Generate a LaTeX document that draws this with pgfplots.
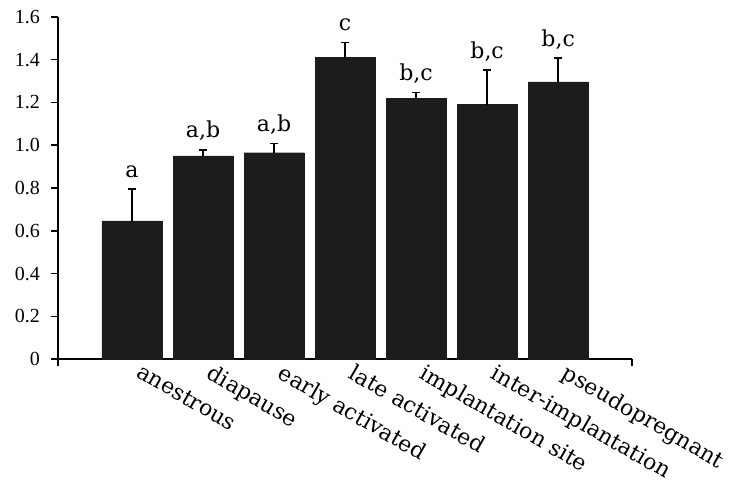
\documentclass[border=0pt]{standalone}
\usepackage{fontspec}
\setmainfont{Liberation Serif}
\newfontfamily\dvs{DejaVu Serif}
\usepackage{pgfplots}
\pgfplotsset{compat=1.18}
\definecolor{barblack}{HTML}{1C1C1C}
\begin{document}
\begin{tikzpicture}
\begin{axis}[
  scale only axis, width=574pt, height=342pt,
  at={(0,0)}, anchor=south west,
  xmin=-1.042, xmax=7.04, ymin=0, ymax=1.6,
  axis lines*=left,
  ytick={0,0.2,0.4,0.6,0.8,1.0,1.2,1.4,1.6},
  yticklabels={},
  xtick={-1.042,7.04}, xticklabels={},
  tick align=outside, major tick length=7pt,
  tick style={black, line width=1.5pt},
  axis line style={black, line width=1.8pt},
  clip=false,
]
\addplot[ybar, bar width=0.845, fill=barblack, draw=barblack,
  error bars/.cd, y dir=plus, y explicit,
  error bar style={line width=1.6pt, black},
  error mark options={rotate=90, mark size=4pt, line width=1.6pt, black}]
  coordinates {
  (0,0.646) +- (0,0.149)
  (1,0.950) +- (0,0.028)
  (2,0.965) +- (0,0.044)
  (3,1.411) +- (0,0.069)
  (4,1.220) +- (0,0.026)
  (5,1.190) +- (0,0.162)
  (6,1.297) +- (0,0.110)
  };
\begin{scope}[every node/.style={font=\fontsize{20}{20}\selectfont, anchor=east, inner sep=0pt, xshift=-18pt}]
\node at (axis cs:-1.042,0) {0};
\node at (axis cs:-1.042,0.2) {0.2};
\node at (axis cs:-1.042,0.4) {0.4};
\node at (axis cs:-1.042,0.6) {0.6};
\node at (axis cs:-1.042,0.8) {0.8};
\node at (axis cs:-1.042,1.0) {1.0};
\node at (axis cs:-1.042,1.2) {1.2};
\node at (axis cs:-1.042,1.4) {1.4};
\node at (axis cs:-1.042,1.6) {1.6};
\end{scope}
\begin{scope}[every node/.style={font=\dvs\fontsize{22}{22}\selectfont, anchor=base, yshift=12pt, inner sep=0pt}]
\node at (axis cs:0,0.795) {a};
\node at (axis cs:1,0.978) {a,b};
\node at (axis cs:2,1.009) {a,b};
\node at (axis cs:3,1.480) {c};
\node at (axis cs:4,1.246) {b,c};
\node at (axis cs:5,1.352) {b,c};
\node at (axis cs:6,1.407) {b,c};
\end{scope}
\begin{scope}[every node/.style={font=\dvs\fontsize{22}{22}\selectfont, anchor=north west, rotate=-30, inner sep=0pt}]
\node at ([xshift=11pt,yshift=-4pt]axis cs:0,0) {anestrous};
\node at ([xshift=11pt,yshift=-4pt]axis cs:1,0) {diapause};
\node at ([xshift=11pt,yshift=-4pt]axis cs:2,0) {early activated};
\node at ([xshift=11pt,yshift=-4pt]axis cs:3,0) {late activated};
\node at ([xshift=11pt,yshift=-4pt]axis cs:4,0) {implantation site};
\node at ([xshift=11pt,yshift=-4pt]axis cs:5,0) {inter-implantation};
\node at ([xshift=11pt,yshift=-4pt]axis cs:6,0) {pseudopregnant};
\end{scope}
\end{axis}
\pgfresetboundingbox
\path[use as bounding box] (-58pt,-128pt) rectangle (672pt,359pt);
\end{tikzpicture}
\end{document}
